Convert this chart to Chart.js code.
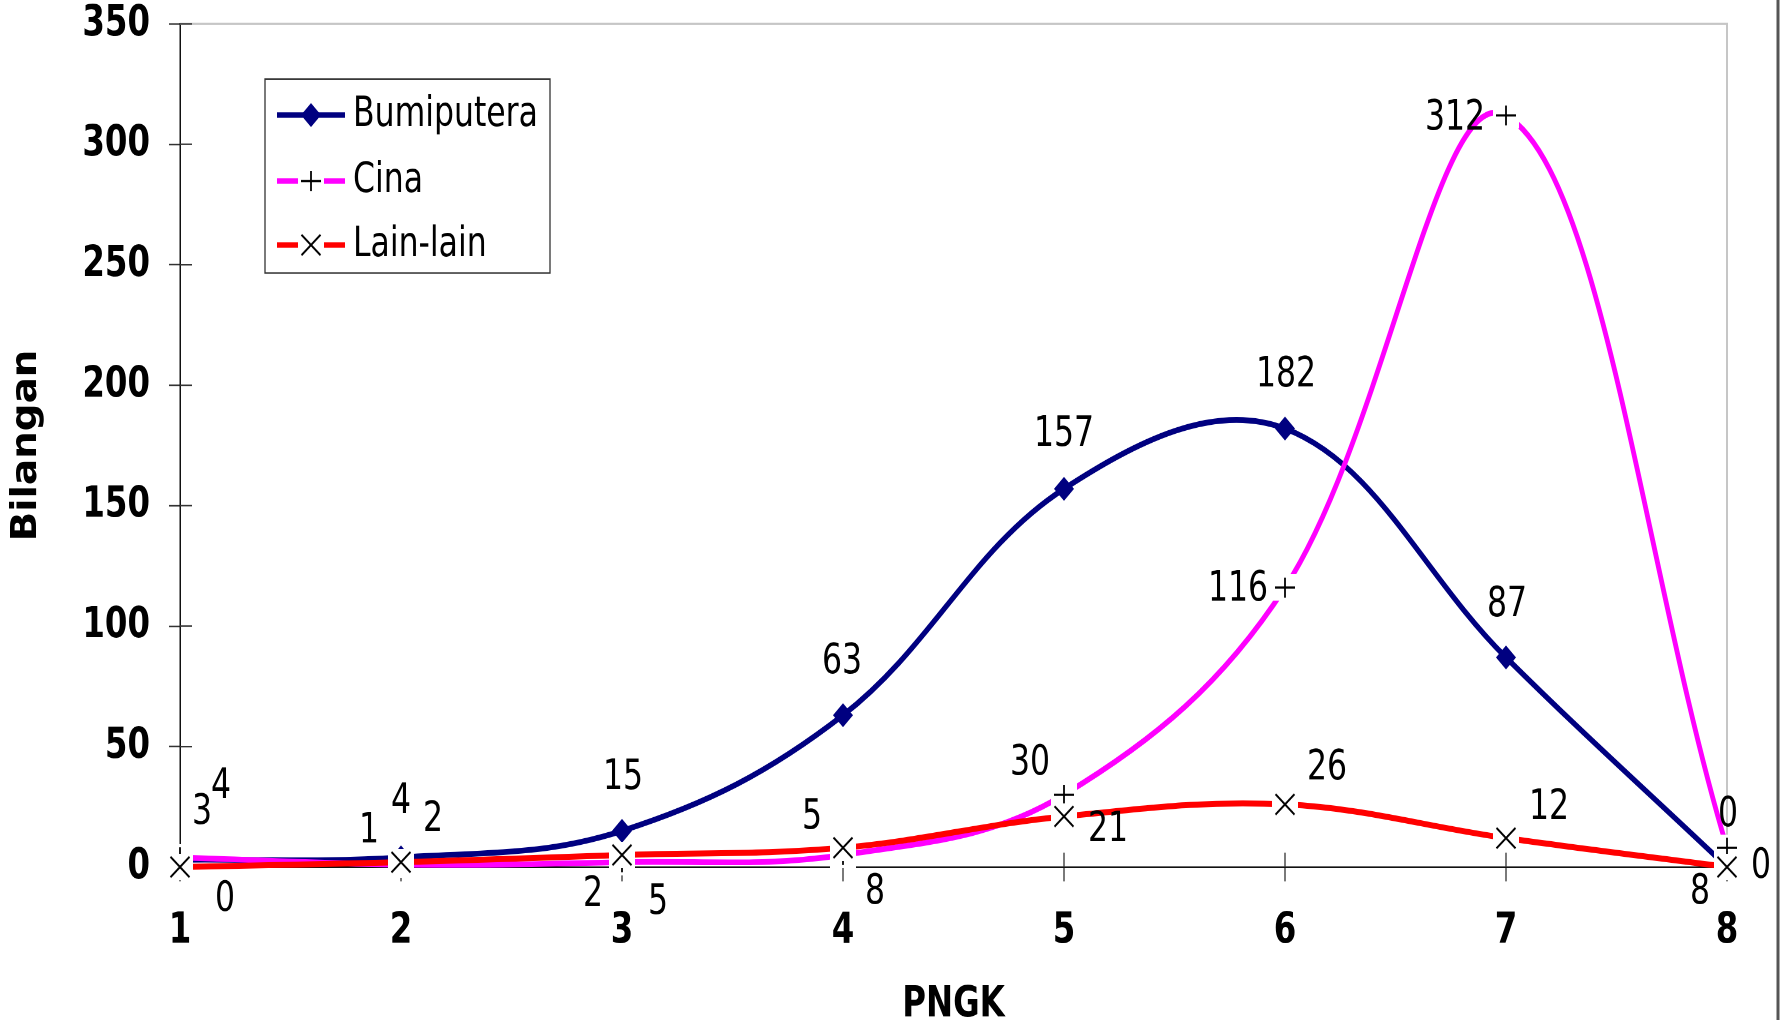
<!DOCTYPE html>
<html><head><meta charset="utf-8">
<script src="https://cdn.jsdelivr.net/npm/chart.js@4"></script>
<style>
html,body{margin:0;padding:0;background:#fff;overflow:hidden;}
#outer{width:1789px;height:1020px;position:relative;overflow:hidden;}
#wrap{position:absolute;left:0;top:0;width:1789px;height:850px;transform:scaleY(1.2);transform-origin:0 0;}
</style></head><body>
<div id="outer"><div id="wrap"><canvas id="c" width="1789" height="850"></canvas></div></div>
<script>
// ---- data ----
const categories = ['1','2','3','4','5','6','7','8'];
const seriesNames = ['Bumiputera','Cina','Lain-lain'];
const bumiputera = [3,4,15,63,157,182,87,0];
const cina = [4,1,2,5,30,116,312,8];
const lainLain = [0,2,5,8,21,26,12,0];
const yTickValues = [0,50,100,150,200,250,300,350];
const xTitle = 'PNGK';
const yTitle = 'Bilangan';

// ---- label placement (screen px offsets from each point) ----
const labelOffsets = [
  [[22,-47],[0,-55],[1,-53],[-1,-53],[0,-54],[1,-53],[1,-52],[1,-52]],
  [[41,-70],[-32,-33],[-29,33],[-31,-37],[-34,-31],[-47,2],[-51,3],[-27,45]],
  [[45,33],[32,-42],[36,48],[32,45],[44,14],[42,-36],[43,-30],[34,0]]
];
const ST = 1.2; // vertical stretch of the page
const FONT = "'DejaVu Sans Condensed', 'DejaVu Sans', sans-serif";

function makeMarker(kind){
  const W=26,H=22,S=3;
  const c=document.createElement('canvas'); c.width=W*S; c.height=H*S;
  const g=c.getContext('2d'); g.scale(S,S);
  g.fillStyle='#fff'; g.fillRect(0,0,W,H);
  g.strokeStyle='#000'; g.lineWidth=1.8;
  g.beginPath();
  if(kind==='x'){
    const hw=9.5,hh=8.5;
    g.moveTo(W/2-hw,H/2-hh); g.lineTo(W/2+hw,H/2+hh);
    g.moveTo(W/2+hw,H/2-hh); g.lineTo(W/2-hw,H/2+hh);
  } else {
    const hw=10,hh=8.3;
    g.moveTo(W/2-hw,H/2); g.lineTo(W/2+hw,H/2);
    g.moveTo(W/2,H/2-hh); g.lineTo(W/2,H/2+hh);
  }
  g.stroke();
  const img=new Image(); img.width=W; img.height=H; img.src=c.toDataURL();
  return img;
}
const plusImg = makeMarker('+');
const xImg = makeMarker('x');

const decor = {
  id:'decor',
  beforeDraw(chart){
    const {ctx,width,height}=chart;
    ctx.save(); ctx.fillStyle='#fff'; ctx.fillRect(0,0,width,height); ctx.restore();
  },
  beforeDatasetsDraw(chart){
    const {ctx,chartArea:a,scales}=chart;
    ctx.save();
    ctx.strokeStyle='#c6c6c6'; ctx.lineWidth=2;
    ctx.beginPath(); ctx.moveTo(a.left,a.top); ctx.lineTo(a.right,a.top); ctx.lineTo(a.right,a.bottom); ctx.stroke();
    ctx.strokeStyle='#333'; ctx.lineWidth=1.3;
    ctx.beginPath();
    scales.y.ticks.forEach(t=>{const y=scales.y.getPixelForValue(t.value); ctx.moveTo(a.left,y); ctx.lineTo(a.left+12,y);});
    categories.forEach((c,i)=>{const x=scales.x.getPixelForValue(i); ctx.moveTo(x,a.bottom); ctx.lineTo(x,a.bottom-12);});
    ctx.stroke();
    ctx.strokeStyle='#555'; ctx.lineWidth=3;
    ctx.beginPath(); ctx.moveTo(1778,0); ctx.lineTo(1778,chart.height); ctx.stroke();
    ctx.restore();
  },
  afterDatasetsDraw(chart){
    const {ctx}=chart;
    ctx.save();
    ctx.fillStyle='#000'; ctx.font='35px '+FONT; ctx.textAlign='center'; ctx.textBaseline='middle';
    chart.data.datasets.forEach((ds,i)=>{
      const meta=chart.getDatasetMeta(i);
      meta.data.forEach((el,j)=>{
        const o=labelOffsets[i][j];
        ctx.fillText(String(ds.data[j]), el.x+o[0], el.y+o[1]/ST);
      });
    });
    const bx=265, by=79/ST, bw=285, bh=194/ST;
    ctx.fillStyle='#fff'; ctx.fillRect(bx,by,bw,bh);
    ctx.strokeStyle='#333'; ctx.lineWidth=1.3; ctx.strokeRect(bx,by,bw,bh);
    const ys=[115,181,245];
    chart.data.datasets.forEach((ds,i)=>{
      const y=ys[i]/ST;
      ctx.strokeStyle=ds.borderColor; ctx.lineWidth=4.5;
      ctx.beginPath(); ctx.moveTo(277,y); ctx.lineTo(345,y); ctx.stroke();
      if(typeof ds.pointStyle==='string'){
        ctx.fillStyle=ds.pointBackgroundColor;
        Chart.helpers.drawPoint(ctx,{pointStyle:ds.pointStyle,radius:10,borderWidth:0,rotation:0},311,y);
      } else {
        ctx.drawImage(ds.pointStyle,311-13,y-11,26,22);
      }
      ctx.fillStyle='#000'; ctx.font='35px '+FONT; ctx.textAlign='left'; ctx.textBaseline='middle';
      ctx.fillText(ds.label,353,y);
    });
    ctx.restore();
  }
};

function build(){
  const axisFont={family:FONT,size:36,weight:'bold'};
  new Chart(document.getElementById('c'),{
    type:'line',
    data:{labels:categories,datasets:[
      {label:seriesNames[0],data:bumiputera,borderColor:'#000080',backgroundColor:'#000080',borderWidth:4.8,
       pointStyle:'rectRot',pointRadius:10,pointBorderWidth:0,pointBackgroundColor:'#000080',pointBorderColor:'#000080',
       tension:0.37,order:3,clip:false},
      {label:seriesNames[1],data:cina,borderColor:'#FF00FF',backgroundColor:'#FF00FF',borderWidth:4.8,
       pointStyle:plusImg,pointRadius:10,tension:0.37,order:2,clip:false},
      {label:seriesNames[2],data:lainLain,borderColor:'#FF0000',backgroundColor:'#FF0000',borderWidth:5,
       pointStyle:xImg,pointRadius:10,tension:0.37,order:1,clip:false}
    ]},
    options:{
      responsive:false,animation:false,devicePixelRatio:2,
      layout:{padding:{left:0,top:0,right:62,bottom:0},autoPadding:false},
      plugins:{legend:{display:false},tooltip:{enabled:false}},
      scales:{
        x:{type:'category',offset:false,
          grid:{display:true,drawOnChartArea:false,drawTicks:true,tickLength:12,tickColor:'#333',tickWidth:1.3},
          border:{display:true,color:'#111',width:1.5},
          ticks:{color:'#000',font:axisFont,padding:20,maxRotation:0,autoSkip:false},
          title:{display:true,text:xTitle,color:'#000',font:{family:FONT,size:36,weight:'bold',lineHeight:1.2},padding:{top:0,bottom:-9}},
          afterFit(s){s.height=127.5;}
        },
        y:{type:'linear',min:0,max:350,
          afterBuildTicks(s){s.ticks=yTickValues.map(v=>({value:v}));},
          grid:{display:true,drawOnChartArea:false,drawTicks:true,tickLength:11,tickColor:'#333',tickWidth:1.3},
          border:{display:true,color:'#111',width:1.5},
          ticks:{color:'#000',font:{family:FONT,size:36,weight:'bold',lineHeight:0.05},padding:19},
          title:{display:true,text:yTitle,color:'#000',font:{family:FONT,size:36,weight:'bold',lineHeight:1.2},padding:{top:5,bottom:0}},
          afterFit(s){s.width=180;}
        }
      }
    },
    plugins:[decor]
  });
}
Promise.all([plusImg,xImg].map(im=>im.decode().catch(()=>{}))).then(build);
</script>
</body></html>
